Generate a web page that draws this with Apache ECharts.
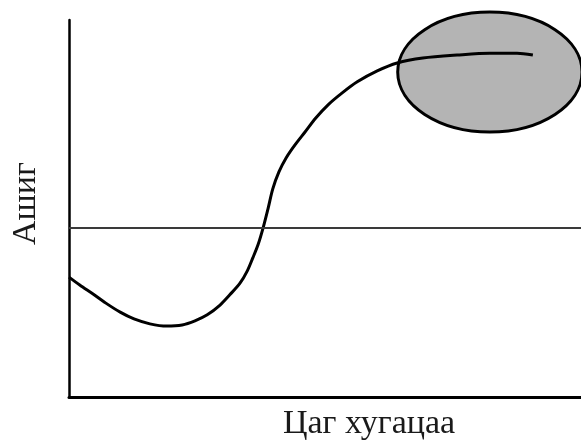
<!DOCTYPE html>
<html>
<head>
<meta charset="utf-8">
<script src="https://cdn.jsdelivr.net/npm/echarts@6/dist/echarts.min.js"></script>
<style>
  html, body { margin: 0; padding: 0; background: #fff; }
  #main { width: 581px; height: 440px; }
</style>
</head>
<body>
<div id="main"></div>
<script>
// curve (time, profit) on a 0-100 scale
var timeVals = [0, 2.1, 4.7, 7.2, 10.0, 12.7, 15.8, 19.1, 22.1, 24.6, 27.0, 29.5, 31.4, 33.4, 34.8, 35.9, 36.9, 37.9,
  38.9, 39.8, 41.0, 42.4, 44.1, 46.1, 48.2, 50.6, 53.3, 56.3, 60.2, 64.1, 69.1, 75.8, 82.2, 87.5, 90.6];
var profitVals = [31.8, 29.7, 27.3, 24.9, 22.5, 20.7, 19.4, 18.8, 19.1, 20.2, 21.8, 24.4, 27.1, 30.2, 33.4, 36.9, 40.3, 44.8,
  50.1, 55.2, 59.7, 63.4, 66.8, 70.3, 74.0, 77.5, 80.6, 83.6, 86.5, 88.6, 89.9, 90.7, 91.2, 91.2, 90.7];
// break-even level
var baseLevel = 44.8;
// shaded zone: centre and radii
var zone = [82.2, 86.2, 18, 15.9];
var xName = "Цаг хугацаа";
var yName = "Ашиг";

var chart = echarts.init(document.getElementById("main"));
var serif = "'Liberation Serif', 'DejaVu Serif', serif";

var option = {
  animation: false,
  grid: { left: 69, right: 0, top: 20, bottom: 43, outerBoundsMode: "none" },
  xAxis: {
    type: "value",
    min: 0,
    max: 100,
    name: xName,
    nameLocation: "middle",
    nameGap: 10,
    nameTextStyle: { fontFamily: serif, fontSize: 34, color: "#1a1a1a", padding: [0, 0, 0, 88] },
    axisLine: { onZero: false, lineStyle: { color: "#000", width: 3 } },
    axisTick: { show: false },
    axisLabel: { show: false },
    splitLine: { show: false }
  },
  yAxis: {
    type: "value",
    min: 0,
    max: 100,
    name: yName,
    nameLocation: "middle",
    nameGap: 26,
    nameTextStyle: { fontFamily: serif, fontSize: 34, color: "#1a1a1a", padding: [0, 0, 0, 10] },
    axisLine: { show: true, lineStyle: { color: "#000", width: 2.5 } },
    axisTick: { show: false },
    axisLabel: { show: false },
    splitLine: { show: false }
  },
  series: [
    {
      type: "custom",
      clip: false,
      silent: true,
      data: [zone],
      renderItem: function (params, api) {
        var c = api.coord([api.value(0), api.value(1)]);
        var s = api.size([api.value(2), api.value(3)]);
        return {
          type: "ellipse",
          shape: { cx: c[0], cy: c[1], rx: s[0], ry: s[1] },
          style: { fill: "#b4b4b4", stroke: "#000", lineWidth: 3 }
        };
      }
    },
    {
      type: "line",
      data: timeVals.map(function (t, i) { return [t, profitVals[i]]; }),
      smooth: 0.3,
      showSymbol: false,
      lineStyle: { color: "#000", width: 3 },
      markLine: {
        silent: true,
        symbol: "none",
        label: { show: false },
        lineStyle: { color: "#3a3a3a", width: 2, type: "solid" },
        data: [{ yAxis: baseLevel }]
      }
    }
  ]
};
chart.setOption(option);
</script>
</body>
</html>
